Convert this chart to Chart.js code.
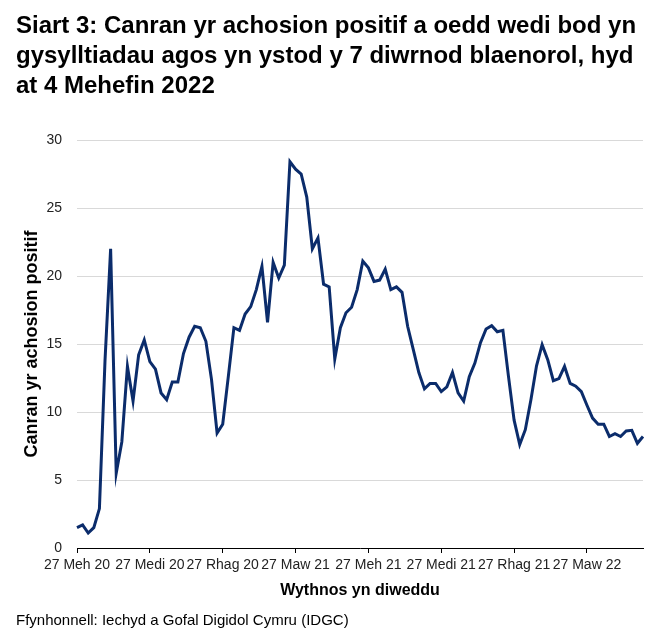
<!DOCTYPE html>
<html>
<head>
<meta charset="utf-8">
<script src="https://cdn.jsdelivr.net/npm/chart.js@4"></script>
<style>
  html, body { margin: 0; padding: 0; background: #fff; }
  #wrap { position: relative; width: 671px; height: 642px; font-family: "Liberation Sans", Arial, sans-serif; }
  #title { position: absolute; left: 16px; top: 10px; font-weight: bold; font-size: 24px; line-height: 30px; color: #000; margin: 0; white-space: nowrap; }
  #source { position: absolute; left: 16px; top: 611px; font-size: 15px; color: #000; margin: 0; }
  canvas { position: absolute; left: 0; top: 0; }
</style>
</head>
<body>
<div id="wrap">
  <canvas id="chart" width="671" height="642"></canvas>
  <h1 id="title">Siart 3: Canran yr achosion positif a oedd wedi bod yn<br>gysylltiadau agos yn ystod y 7 diwrnod blaenorol, hyd<br>at 4 Mehefin 2022</h1>
  <p id="source">Ffynhonnell: Iechyd a Gofal Digidol Cymru (IDGC)</p>
</div>
<script>
// weekly values, week ending 27 Jun 2020 .. 4 Jun 2022
const positivePct = [
  1.5, 1.7, 1.1, 1.5, 2.9, 13.8, 22.0, 5.5, 7.8, 13.35,
  10.8, 14.2, 15.3, 13.7, 13.15, 11.4, 10.9, 12.2, 12.2, 14.3,
  15.5, 16.3, 16.2, 15.2, 12.4, 8.45, 9.1, 12.6, 16.2, 16.0,
  17.2, 17.75, 19.0, 20.7, 16.6, 21.0, 19.85, 20.8, 28.4, 27.85,
  27.5, 25.8, 22.0, 22.8, 19.4, 19.2, 13.9, 16.2, 17.3, 17.7,
  19.0, 21.1, 20.6, 19.6, 19.7, 20.5, 19.0, 19.2, 18.8, 16.3,
  14.6, 12.9, 11.7, 12.1, 12.1, 11.5, 11.85, 12.9, 11.4, 10.8,
  12.6, 13.6, 15.1, 16.1, 16.35, 15.9, 16.0, 12.6, 9.4, 7.6,
  8.7, 10.9, 13.4, 14.95, 13.85, 12.3, 12.45, 13.35, 12.1, 11.9,
  11.5, 10.5, 9.55, 9.1, 9.1, 8.2, 8.4, 8.2, 8.6, 8.65,
  7.7, 8.2
];
// tick labels shown every 13 weeks
const tickLabels = ['27 Meh 20', '27 Medi 20', '27 Rhag 20', '27 Maw 21', '27 Meh 21', '27 Medi 21', '27 Rhag 21', '27 Maw 22'];
const tickEvery = 13;
const weeks = positivePct.map((_, i) => i);

new Chart(document.getElementById('chart'), {
  type: 'line',
  data: {
    labels: weeks,
    datasets: [{
      label: 'Canran yr achosion positif',
      data: positivePct,
      borderColor: '#0b2c6b',
      borderWidth: 3,
      pointRadius: 0,
      tension: 0,
      fill: false
    }]
  },
  options: {
    responsive: false,
    animation: false,
    layout: { padding: { left: 0, right: 28, top: 140, bottom: 34 } },
    plugins: { legend: { display: false }, tooltip: { enabled: false } },
    scales: {
      x: {
        offset: false,
        afterFit: s => { s.height = 60; },
        border: { display: true, color: '#000', width: 1 },
        grid: {
          drawOnChartArea: false,
          drawTicks: true,
          tickLength: 5,
          color: ctx => (ctx.index % tickEvery === 0 && ctx.index < positivePct.length - 1) ? '#000' : 'rgba(0,0,0,0)'
        },
        ticks: {
          autoSkip: false,
          maxRotation: 0,
          padding: 4,
          color: '#222',
          font: { family: 'Liberation Sans', size: 14 },
          callback: (v, i) => i % tickEvery === 0 ? (tickLabels[i / tickEvery] || '') : ''
        },
        title: {
          display: true,
          text: 'Wythnos yn diweddu',
          color: '#000',
          font: { family: 'Liberation Sans', size: 16, weight: 'bold' },
          padding: { top: 0, bottom: 8 }
        }
      },
      y: {
        min: 0,
        max: 30,
        afterFit: s => { s.width = 77; },
        border: { display: false },
        grid: { color: '#d9d9d9', lineWidth: 1, drawTicks: false },
        ticks: {
          stepSize: 5,
          padding: 15,
          color: '#222',
          font: { family: 'Liberation Sans', size: 14 }
        },
        title: {
          display: true,
          text: 'Canran yr achosion positif',
          color: '#000',
          font: { family: 'Liberation Sans', size: 18, weight: 'bold' },
          padding: { top: 21, bottom: 0 }
        }
      }
    }
  }
});
</script>
</body>
</html>
